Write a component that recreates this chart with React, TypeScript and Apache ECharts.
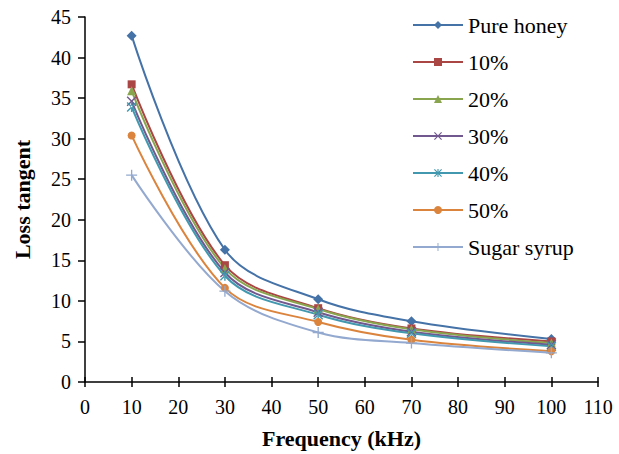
import React, { useEffect, useRef } from "react";
import * as echarts from "echarts";

const frequencies = [10, 30, 50, 70, 100];
const seriesNames = ["Pure honey", "10%", "20%", "30%", "40%", "50%", "Sugar syrup"];
const pureHoney = [42.7, 16.3, 10.2, 7.5, 5.3];
const p10 = [36.7, 14.4, 9.1, 6.6, 5.0];
const p20 = [35.9, 14.0, 9.0, 6.5, 4.8];
const p30 = [34.6, 13.5, 8.6, 6.2, 4.6];
const p40 = [33.9, 13.1, 8.3, 6.0, 4.4];
const p50 = [30.4, 11.6, 7.4, 5.2, 3.8];
const sugarSyrup = [25.5, 11.2, 6.1, 4.8, 3.6];
const allValues = [pureHoney, p10, p20, p30, p40, p50, sugarSyrup];

const colors = ["#4572A7", "#AA4643", "#89A54E", "#71588F", "#4198AF", "#DB843D", "#93A9CF"];
const X_SHAPE = "path://M1,0L5,4L9,0L10,1L6,5L10,9L9,10L5,6L1,10L0,9L4,5L0,1Z";
const ASTERISK = "path://M1,0L5,4L9,0L10,1L6,5L10,9L9,10L5,6L1,10L0,9L4,5L0,1Z M4.3,0L4.3,10L5.7,10L5.7,0Z";
const PLUS = "path://M4.4,0H5.6V4.4H10V5.6H5.6V10H4.4V5.6H0V4.4H4.4Z";
const symbols = ["diamond", "rect", "triangle", X_SHAPE, ASTERISK, "circle", PLUS];
const symbolSizes = [10, 8, 9, 10, 10, 8, 11];

export default function App() {
  const ref = useRef<HTMLDivElement>(null);
  useEffect(() => {
    if (!ref.current) return;
    const chart = echarts.init(ref.current, undefined, { renderer: "svg" });
    const font = "Liberation Serif";
    chart.setOption({
      animation: false,
      textStyle: { fontFamily: font },
      grid: { left: 85, right: 21, top: 17, bottom: 71, containLabel: false },
      legend: {
        orient: "vertical",
        left: 407,
        top: 9,
        itemWidth: 50,
        itemHeight: 10,
        itemGap: 15,
        textStyle: { fontFamily: font, fontSize: 22, color: "#000" },
        data: seriesNames,
      },
      xAxis: [
        {
          type: "value",
          min: 0,
          max: 110,
          interval: 10,
          name: "Frequency (kHz)",
          nameLocation: "middle",
          nameGap: 45,
          nameTextStyle: { fontFamily: font, fontSize: 22, fontWeight: "bold", color: "#000" },
          axisLine: { lineStyle: { color: "#000", width: 1.5 } },
          axisTick: { length: 5, lineStyle: { color: "#000", width: 1.5 } },
          axisLabel: { fontFamily: font, fontSize: 20, color: "#000", margin: 15 },
          splitLine: { show: false },
        },
        {
          type: "value",
          position: "bottom",
          min: 0,
          max: 110,
          interval: 10,
          axisLine: { show: false },
          axisTick: { inside: true, length: 5, lineStyle: { color: "#000", width: 1.5 } },
          axisLabel: { show: false },
          splitLine: { show: false },
        },
      ],
      yAxis: {
        type: "value",
        min: 0,
        max: 45,
        interval: 5,
        name: "Loss tangent",
        nameLocation: "middle",
        nameGap: 52,
        nameTextStyle: { fontFamily: font, fontSize: 22, fontWeight: "bold", color: "#000" },
        axisLine: { show: true, lineStyle: { color: "#000", width: 1.5 } },
        axisTick: { show: true, length: 7, lineStyle: { color: "#000", width: 1.5 } },
        axisLabel: { fontFamily: font, fontSize: 20, color: "#000", margin: 14 },
        splitLine: { show: false },
      },
      series: seriesNames.map((name, i) => ({
        name,
        type: "line",
        xAxisIndex: 0,
        smooth: 0.35,
        symbol: symbols[i],
        symbolSize: symbolSizes[i],
        showAllSymbol: true,
        color: colors[i],
        lineStyle: { color: colors[i], width: 2 },
        itemStyle: { color: colors[i] },
        data: frequencies.map((f, j) => [f, allValues[i][j]]),
      })),
    });
    return () => chart.dispose();
  }, []);
  return <div ref={ref} style={{ position: "absolute", left: 0, top: 0, width: 619, height: 454 }} />;
}
